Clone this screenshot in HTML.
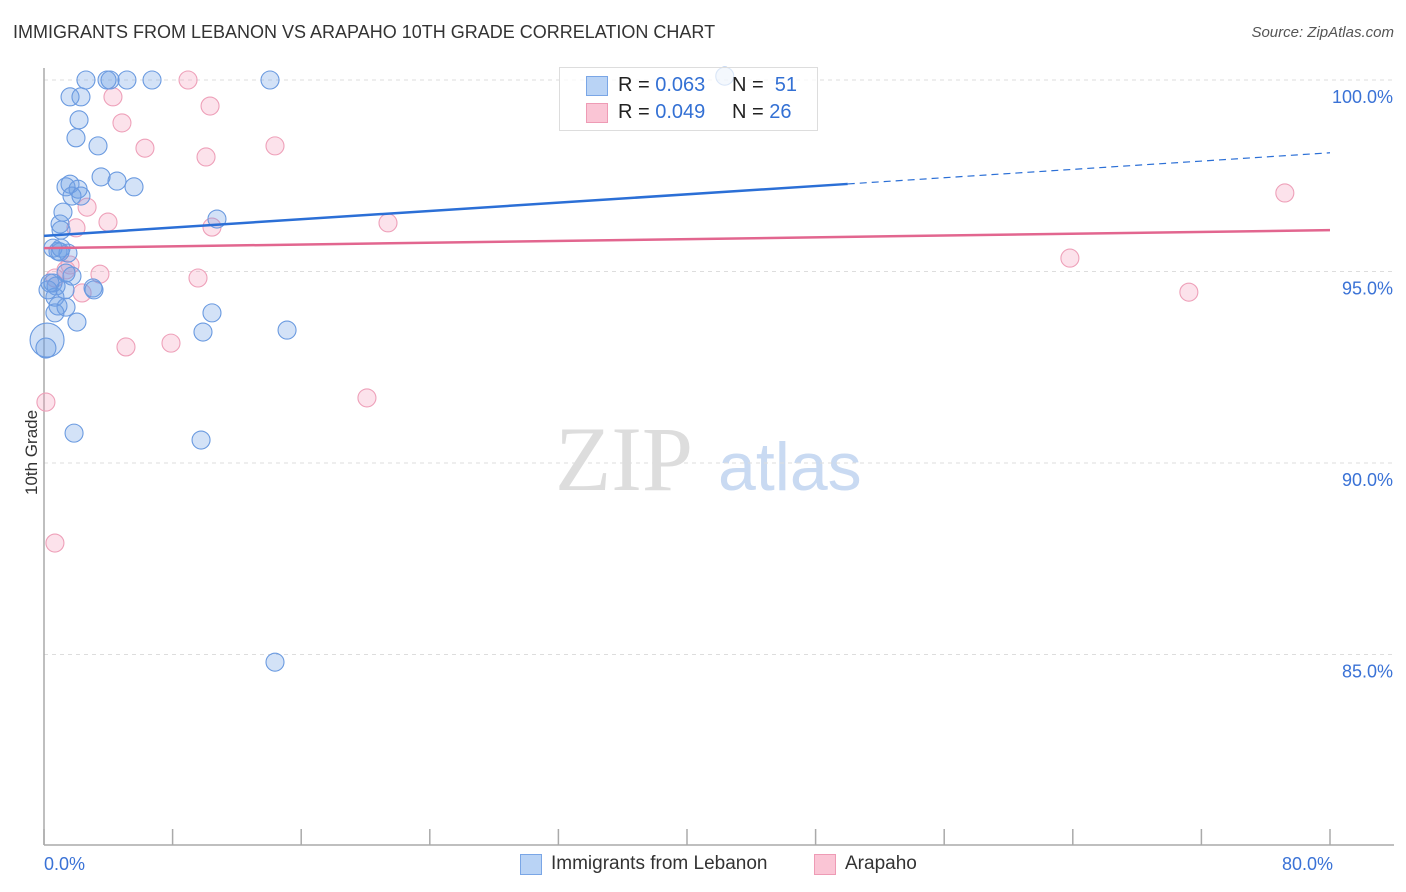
<!DOCTYPE html>
<html><head><meta charset="utf-8">
<style>
body{margin:0;background:#fff;font-family:"Liberation Sans",sans-serif;}
#wrap{position:relative;width:1406px;height:892px;overflow:hidden;}
.t{position:absolute;white-space:nowrap;}
</style></head>
<body>
<div id="wrap">
<div class="t" style="left:13px;top:22px;font-size:18px;color:#333;">IMMIGRANTS FROM LEBANON VS ARAPAHO 10TH GRADE CORRELATION CHART</div>
<div class="t" style="right:12px;top:24px;font-size:15px;color:#555;font-style:italic;">Source: ZipAtlas.com</div>
<svg id="plot" width="1406" height="892" style="position:absolute;left:0;top:0"></svg>
<div class="t" style="left:-8px;top:445px;font-size:17px;color:#333;transform:rotate(-90deg);transform-origin:center;width:80px;text-align:center;">10th Grade</div>
<div style="position:absolute;left:559px;top:67px;width:257px;height:62px;border:1px solid #ddd;background:rgba(255,255,255,0.75);font-size:20px;color:#222;">
 <div style="position:absolute;left:26px;top:8px;width:20px;height:18px;background:#b9d3f5;border:1px solid #7aa6e6;"></div>
 <div class="t" style="left:58px;top:6px;">R = <span style="color:#3370d4">0.063</span></div>
 <div class="t" style="left:172px;top:6px;">N = &nbsp;<span style="color:#3370d4">51</span></div>
 <div style="position:absolute;left:26px;top:35px;width:20px;height:18px;background:#fac5d5;border:1px solid #ee9bb5;"></div>
 <div class="t" style="left:58px;top:33px;">R = <span style="color:#3370d4">0.049</span></div>
 <div class="t" style="left:172px;top:33px;">N = <span style="color:#3370d4">26</span></div>
</div>
<div>
 <div style="position:absolute;left:520px;top:854px;width:20px;height:19px;background:#b9d3f5;border:1px solid #7aa6e6;"></div>
 <div class="t" style="left:551px;top:853px;font-size:19px;color:#333;">Immigrants from Lebanon</div>
 <div style="position:absolute;left:814px;top:854px;width:20px;height:19px;background:#fac5d5;border:1px solid #ee9bb5;"></div>
 <div class="t" style="left:845px;top:853px;font-size:19px;color:#333;">Arapaho</div>
</div>
</div>
<script>
const blueX=[2.61,4.11,3.92,5.16,6.72,14.06,42.35,1.62,2.30,2.18,1.99,3.36,3.55,4.54,5.60,1.37,1.62,2.12,1.74,1.18,1.00,1.06,10.76,0.56,0.87,1.49,1.00,1.74,1.37,0.56,0.75,1.31,3.05,3.11,0.68,0.87,1.37,0.68,2.05,10.45,9.89,15.12,0.19,0.12,1.87,9.77,14.37,0.37,0.25,1.06,2.30];
const blueY=[100,100,100,100,100,100,100.1,99.56,99.56,98.96,98.49,98.28,97.47,97.36,97.21,97.21,97.28,97.15,96.97,96.55,96.24,96.08,96.37,95.61,95.53,95.48,95.51,94.88,94.96,94.70,94.62,94.52,94.57,94.52,94.33,94.10,94.07,93.92,93.68,93.92,93.42,93.47,93.21,93.00,90.78,90.60,84.80,94.70,94.52,95.61,96.97];
const blueR=[9,9,9,9,9,9,9,9,9,9,9,9,9,9,9,9,9,9,9,9,9,9,9,9,9,9,9,9,9,9,9,9,9,9,9,9,9,9,9,9,9,9,17,10,9,9,9,9,9,9,9];
const pinkX=[8.96,10.33,4.29,4.85,6.28,10.08,14.37,2.68,3.98,10.45,21.40,1.99,1.62,3.48,1.37,9.58,2.37,5.10,7.90,20.09,0.12,0.68,63.82,71.22,77.19,0.68];
const pinkY=[100,99.32,99.56,98.88,98.22,97.99,98.28,96.68,96.29,96.16,96.27,96.14,95.17,94.93,95.04,94.83,94.44,93.03,93.13,91.70,91.59,87.91,95.35,94.46,97.05,94.83];
const blueLine=[95.93,98.10], blueSolidEnd=50;
const pinkLine=[95.61,96.08];
const xTicks=[0,8,16,24,32,40,48,56,64,72,80];
const yTicks=[85,90,95,100];
const yLabels=["85.0%","90.0%","95.0%","100.0%"];
const xLabels=["0.0%","80.0%"];

const NS="http://www.w3.org/2000/svg";
const svg=document.getElementById('plot');
const X=v=>44+v/80*1286;
const Y=v=>80+(100-v)*38.3;
function el(t,a){const e=document.createElementNS(NS,t);for(const k in a)e.setAttribute(k,a[k]);svg.appendChild(e);return e;}
let w=el('text',{x:555,y:490,'font-size':92,'font-family':'Liberation Serif,serif',fill:'#ddd'});w.textContent='ZIP';


let w2=el('text',{x:718,y:490,'font-size':68,'font-family':'Liberation Sans,sans-serif',fill:'#c9daf2'});w2.textContent='atlas';


yTicks.forEach((v,i)=>{
 const g=el('line',{x1:44,x2:1394,y1:Y(v),y2:Y(v),stroke:'#ddd','stroke-dasharray':'4,4'});
 
 
 const t=el('text',{x:1393,y:Y(v)+23,'text-anchor':'end','font-size':18,fill:'#3a72d6','font-family':'Liberation Sans,sans-serif'});t.textContent=yLabels[i];
 
 
});
const ax=el('line',{x1:44,x2:44,y1:68,y2:845,stroke:'#aaa','stroke-width':1.5});


const bx=el('line',{x1:44,x2:1394,y1:845,y2:845,stroke:'#aaa','stroke-width':1.5});


xTicks.forEach(v=>{const t=el('line',{x1:X(v),x2:X(v),y1:829,y2:845,stroke:'#aaa','stroke-width':1.5});
 
 });
[[0,'start'],[80,'end']].forEach((p,i)=>{const t=el('text',{x:X(p[0])+(i?3:0),y:870,'text-anchor':p[1],'font-size':18,fill:'#3a72d6','font-family':'Liberation Sans,sans-serif'});t.textContent=xLabels[i];
 
 });
pinkX.forEach((x,i)=>{const c=el('circle',{cx:X(x),cy:Y(pinkY[i]),r:9,fill:'rgba(244,160,190,0.3)',stroke:'#eea0b9','stroke-width':1.1});
 
 });
blueX.forEach((x,i)=>{const c=el('circle',{cx:X(x),cy:Y(blueY[i]),r:blueR[i],fill:'rgba(110,160,230,0.3)',stroke:'#6a9ae0','stroke-width':1.1});
 
 });
const by=x=>blueLine[0]+(blueLine[1]-blueLine[0])*x/80;
const l1=el('line',{x1:X(0),y1:Y(by(0)),x2:X(blueSolidEnd),y2:Y(by(blueSolidEnd)),stroke:'#2b6fd6','stroke-width':2.5});


const l2=el('line',{x1:X(blueSolidEnd),y1:Y(by(blueSolidEnd)),x2:X(80),y2:Y(by(80)),stroke:'#2b6fd6','stroke-width':1.2,'stroke-dasharray':'7,5'});


const l3=el('line',{x1:X(0),y1:Y(pinkLine[0]),x2:X(80),y2:Y(pinkLine[1]),stroke:'#e2668f','stroke-width':2.5});


</script>
</body></html>
